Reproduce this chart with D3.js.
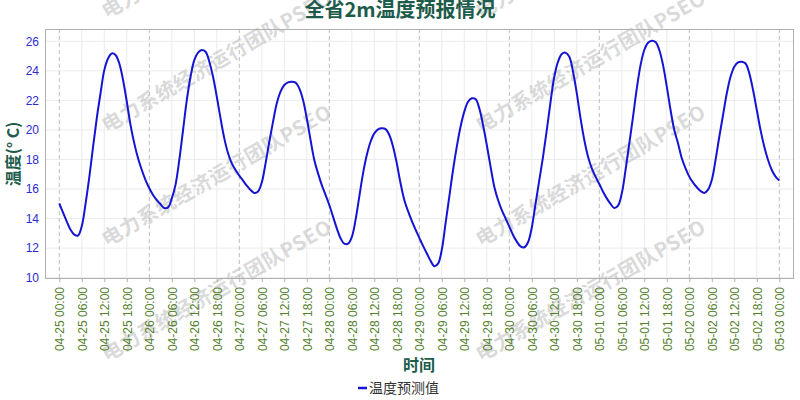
<!DOCTYPE html>
<html><head><meta charset="utf-8">
<script src="https://cdn.jsdelivr.net/npm/d3@7"></script>
<style>body{margin:0;background:#fff}</style>
</head><body>
<svg id="c" width="800" height="400"></svg>
<script>
const title = "全省2m温度预报情况";
const yLabel = "温度(° C)";
const xLabel = "时间";
const seriesName = "温度预测值";
const watermark = "电力系统经济运行团队PSEO";
const tickLabels = [
 "04-25 00:00","04-25 06:00","04-25 12:00","04-25 18:00",
 "04-26 00:00","04-26 06:00","04-26 12:00","04-26 18:00",
 "04-27 00:00","04-27 06:00","04-27 12:00","04-27 18:00",
 "04-28 00:00","04-28 06:00","04-28 12:00","04-28 18:00",
 "04-29 00:00","04-29 06:00","04-29 12:00","04-29 18:00",
 "04-30 00:00","04-30 06:00","04-30 12:00","04-30 18:00",
 "05-01 00:00","05-01 06:00","05-01 12:00","05-01 18:00",
 "05-02 00:00","05-02 06:00","05-02 12:00","05-02 18:00",
 "05-03 00:00"];
const yTicks = [10,12,14,16,18,20,22,24,26];
// hourly forecast values, 04-25 00:00 .. 05-03 00:00
const temps = [
 15.03,14.4,13.8,13.25,12.92,12.85,13.5,15.0,16.8,18.85,20.8,22.5,24.05,24.84,25.18,25.07,24.5,23.38,21.91,20.33,19.09,18.08,17.29,16.61,16.05,15.6,15.25,14.97,14.72,14.76,15.37,16.3,
 17.97,19.99,22.02,23.6,24.73,25.23,25.41,25.29,24.62,23.6,22.25,20.78,19.43,18.42,17.74,17.29,16.91,16.57,16.23,15.94,15.74,15.84,16.45,17.74,19.2,20.56,21.8,22.59,23.04,23.22,23.26,23.2,
 22.81,22.02,20.78,19.32,17.97,17.06,16.27,15.6,14.92,14.13,13.34,12.67,12.3,12.3,12.75,13.91,15.49,17.06,18.3,19.2,19.77,20.04,20.11,20.06,19.66,18.87,17.74,16.39,15.26,14.5,13.85,13.25,
 12.7,12.15,11.65,11.15,10.78,10.95,11.9,13.68,15.48,17.29,18.87,20.22,21.24,21.91,22.14,22.09,21.46,20.33,18.98,17.52,16.16,15.26,14.58,14.02,13.46,12.89,12.44,12.12,12.06,12.4,13.4,15.0,
 16.6,18.2,20.0,21.9,23.6,24.62,25.14,25.23,24.96,23.94,22.48,20.78,19.32,18.19,17.4,16.84,16.34,15.82,15.37,14.99,14.72,14.88,15.71,17.29,19.09,20.9,22.81,24.39,25.41,25.9,26.04,25.95,
 25.41,24.39,22.93,21.35,19.99,19.09,18.08,17.4,16.84,16.43,16.12,15.87,15.74,15.96,16.61,17.97,19.54,21.01,22.48,23.6,24.28,24.57,24.62,24.5,23.83,22.7,21.35,19.99,18.87,17.97,17.29,16.84,16.57
];
const wmX = [107, 481];
const wmY = [19, 133, 247, 362];

const svg = d3.select("#c");
const box = {l:45, t:29, r:793, b:278};
const hoursPerTick = 6;
const nHours = (tickLabels.length - 1) * hoursPerTick;
const x = d3.scaleLinear().domain([0, nHours]).range([59.3, 779.3]);
const y = d3.scaleLinear().domain([10, 26]).range([277.7, 41.3]);
const cjk = "'Noto Sans CJK SC','Noto Sans',sans-serif";

// grid
const g = svg.append("g");
g.selectAll(".hg").data(yTicks).join("line")
 .attr("x1", box.l).attr("x2", box.r)
 .attr("y1", d => y(d)).attr("y2", d => y(d))
 .attr("stroke", "#ececec").attr("stroke-width", 1);
g.selectAll(".vg").data(tickLabels).join("line")
 .attr("x1", (d,i) => x(i*hoursPerTick)).attr("x2", (d,i) => x(i*hoursPerTick))
 .attr("y1", box.t).attr("y2", box.b)
 .attr("stroke", (d,i) => i % 4 === 0 ? "#bdbdbd" : "#ececec")
 .attr("stroke-dasharray", (d,i) => i % 4 === 0 ? "4,3" : null)
 .attr("stroke-width", 1);

// watermark
const wm = svg.append("g");
wmX.forEach(wx => wmY.forEach(wy => {
  wm.append("text").attr("transform", `translate(${wx},${wy}) rotate(-30)`)
   .attr("font-family", cjk).attr("font-weight", "bold").attr("font-size", 20)
   .attr("letter-spacing", 0.6)
   .attr("fill", "#c4c4c4").attr("fill-opacity", 0.65).text(watermark);
}));

// box
svg.append("rect").attr("x", box.l + 0.5).attr("y", box.t + 0.5)
 .attr("width", box.r - box.l).attr("height", box.b - box.t)
 .attr("fill", "none").attr("stroke", "#b0b0b0").attr("stroke-width", 1);

// line
const line = d3.line().x((d,i) => x(i)).y(d => y(d)).curve(d3.curveCatmullRom.alpha(0.5));
svg.append("path").datum(temps).attr("d", line)
 .attr("fill", "none").attr("stroke", "#1414d2").attr("stroke-width", 2);

// y axis
const ya = svg.append("g").attr("transform", `translate(${box.l},0)`)
 .call(d3.axisLeft(y).tickValues(yTicks).tickSize(0).tickPadding(6));
ya.select(".domain").remove();
ya.selectAll("text").attr("fill", "#2b2bd0").attr("font-size", 12)
 .attr("font-family", "'Liberation Sans',Arial,sans-serif");

// x axis
const xa = svg.append("g").attr("transform", `translate(0,${box.b})`)
 .call(d3.axisBottom(x).tickValues(tickLabels.map((d,i) => i*hoursPerTick))
   .tickFormat((d) => tickLabels[d / hoursPerTick]).tickSize(4).tickPadding(4));
xa.select(".domain").remove();
xa.selectAll(".tick line").attr("stroke", "#b0b0b0");
xa.selectAll("text").attr("fill", "#55812f").attr("font-size", 12)
 .attr("font-family", "'Liberation Sans',Arial,sans-serif")
 .attr("transform", "rotate(-90)").attr("text-anchor", "end")
 .attr("x", -9).attr("y", 0).attr("dy", "0.35em");

// titles
svg.append("text").attr("x", 400).attr("y", 17).attr("text-anchor", "middle")
 .attr("font-family", cjk).attr("font-weight", "bold").attr("font-size", 20)
 .attr("fill", "#1d5b4b").text(title);
svg.append("text").attr("transform", "translate(19,154) rotate(-90)")
 .attr("text-anchor", "middle").attr("font-family", cjk).attr("font-weight", "bold")
 .attr("font-size", 16).attr("fill", "#1d5b4b").text(yLabel);
svg.append("text").attr("x", 419).attr("y", 371).attr("text-anchor", "middle")
 .attr("font-family", cjk).attr("font-weight", "bold").attr("font-size", 16)
 .attr("fill", "#1d5b4b").text(xLabel);

// legend
const lg = svg.append("g").attr("transform", "translate(358,388)");
lg.append("line").attr("x1", 0).attr("x2", 9).attr("y1", 0).attr("y2", 0)
 .attr("stroke", "#1414d2").attr("stroke-width", 2.5);
lg.append("text").attr("x", 11).attr("y", 5).attr("font-family", cjk)
 .attr("font-size", 14).attr("fill", "#333").text(seriesName);
</script>
</body></html>
